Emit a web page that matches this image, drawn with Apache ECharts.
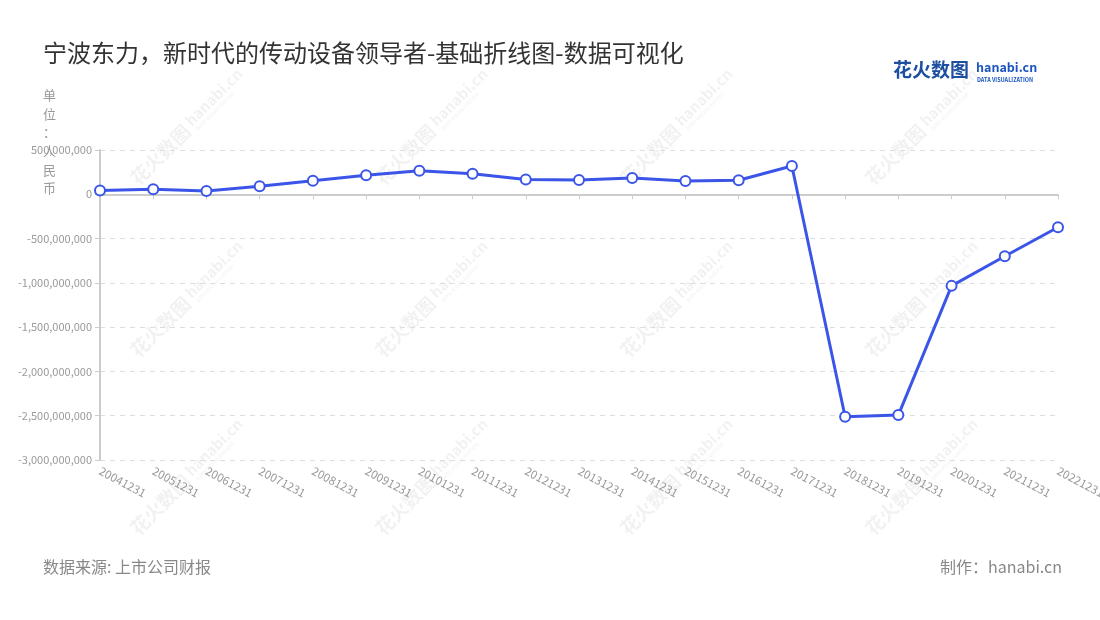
<!DOCTYPE html>
<html>
<head>
<meta charset="utf-8">
<script src="https://cdn.jsdelivr.net/npm/echarts@6/dist/echarts.min.js"></script>
<style>
html,body{margin:0;padding:0;background:#fff;}
#main{width:1100px;height:620px;}
</style>
</head>
<body>
<div id="main"></div>
<script>
var categories = ['20041231','20051231','20061231','20071231','20081231','20091231','20101231','20111231','20121231','20131231','20141231','20151231','20161231','20171231','20181231','20191231','20201231','20211231','20221231'];
var netProfit = [42000000, 56000000, 37000000, 90000000, 154000000, 214000000, 267000000, 233000000, 166000000, 161000000, 184000000, 150000000, 158000000, 319000000, -2512000000, -2493000000, -1034000000, -699000000, -372000000];
var titleText = '宁波东力，新时代的传动设备领导者-基础折线图-数据可视化';
var unitText = '单\n位\n：\n人\n民\n币';
var sourceText = '数据来源: 上市公司财报';
var makerText = '制作：hanabi.cn';

var FONT = '"Noto Sans CJK SC","Noto Sans",sans-serif';

function fmt(v){ return Number(v).toLocaleString('en-US'); }

var watermarks = [];
var wmX = [180, 425, 670, 915];
var wmY = [135, 307, 485];
wmY.forEach(function(y){
  wmX.forEach(function(x){
    watermarks.push({
      type:'group', x:x, y:y, rotation: Math.PI/4, silent:true, z:0,
      children:[
        {type:'text', style:{text:'花火数图', x:-66, y:0, fill:'rgba(0,0,0,0.055)', font:'bold 19px '+FONT, textVerticalAlign:'middle'}},
        {type:'text', style:{text:'hanabi.cn', x:14, y:-3, fill:'rgba(0,0,0,0.055)', font:'bold 15px '+FONT, textVerticalAlign:'middle'}},
        {type:'text', style:{text:'DATA VISUALIZATION', x:16, y:8, fill:'rgba(0,0,0,0.05)', font:'bold 5px '+FONT, textVerticalAlign:'middle'}}
      ]
    });
  });
});

var chart = echarts.init(document.getElementById('main'));
chart.setOption({
  backgroundColor:'#fff',
  animation:false,
  title:[
    {text:titleText, left:43, top:41, padding:0, textStyle:{fontSize:24, fontWeight:'normal', color:'#333', fontFamily:FONT}},
    {text:unitText, left:43, top:86, padding:0, textStyle:{fontSize:13, fontWeight:'normal', color:'#999', lineHeight:18.6, fontFamily:FONT}},
    {text:sourceText, left:43, top:559, padding:0, textStyle:{fontSize:16, fontWeight:'normal', color:'#888', fontFamily:FONT}},
    {text:makerText, right:38, top:559, padding:0, textStyle:{fontSize:16, fontWeight:'normal', color:'#888', fontFamily:FONT}}
  ],
  graphic: watermarks.concat([
    {type:'text', left:893, top:60, style:{text:'花火数图', fill:'#1d4fa0', font:'bold 19px '+FONT}},
    {type:'text', left:976, top:61, style:{text:'hanabi.cn', fill:'#1a55c0', font:'bold 12.5px '+FONT}},
    {type:'text', left:977, top:77, style:{text:'DATA VISUALIZATION', fill:'#1a55c0', font:'bold 5.5px '+FONT}}
  ]),
  grid:{left:100, right:42, top:150, bottom:160, outerBoundsMode:'none', containLabel:false},
  xAxis:{
    type:'category',
    data:categories,
    boundaryGap:false,
    axisLine:{lineStyle:{color:'#ccc', width:2}},
    axisTick:{show:true, lineStyle:{color:'#ccc'}},
    axisLabel:{rotate:-28, color:'#999', fontSize:11.5, fontFamily:FONT, interval:0, margin:10}
  },
  yAxis:{
    type:'value',
    min:-3000000000, max:500000000, interval:500000000,
    axisLine:{show:true, lineStyle:{color:'#ccc', width:2}},
    axisTick:{show:true, lineStyle:{color:'#ccc'}},
    splitLine:{lineStyle:{color:'#ddd', type:[5,5]}},
    axisLabel:{color:'#999', fontSize:11, fontFamily:FONT, formatter:fmt, margin:8}
  },
  series:[{
    type:'line',
    data:netProfit,
    symbol:'emptyCircle',
    symbolSize:10,
    z:5,
    lineStyle:{color:'#3a55e8', width:3},
    itemStyle:{color:'#3a55e8', borderWidth:2}
  }]
});
</script>
</body>
</html>
